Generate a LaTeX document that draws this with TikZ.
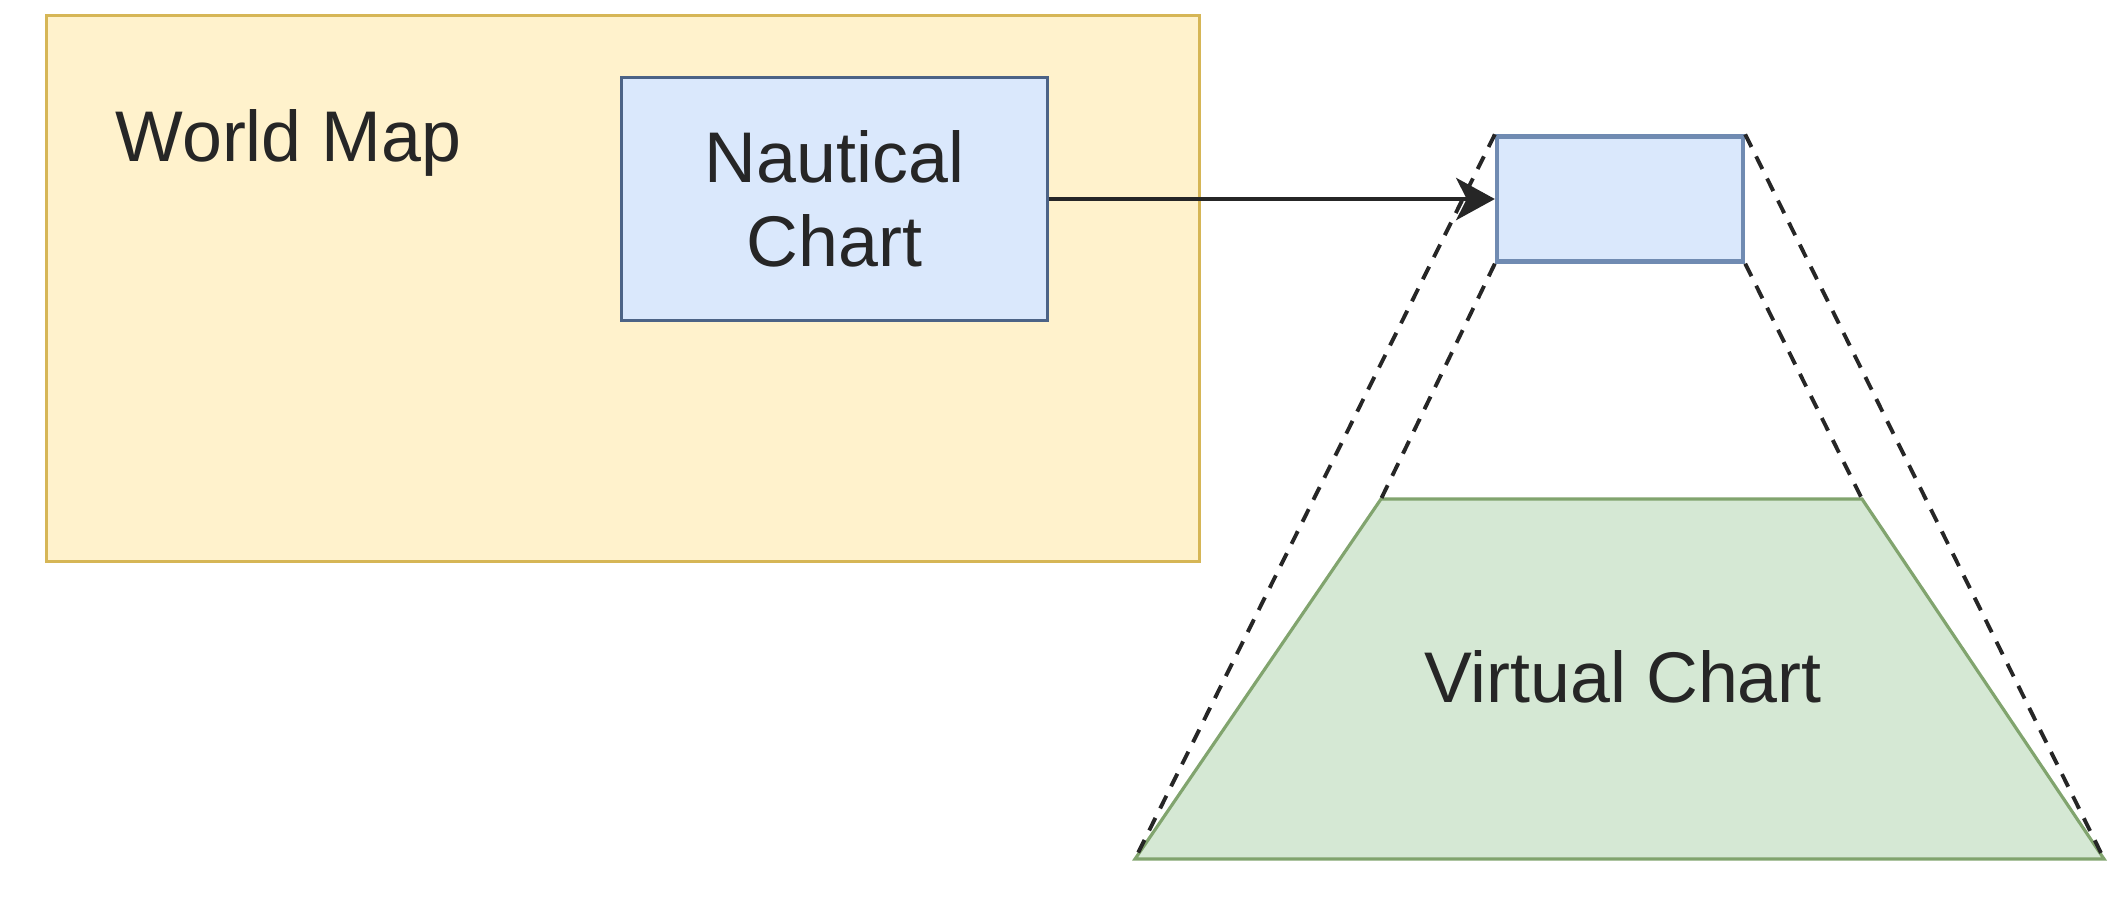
\documentclass[tikz,border=0pt]{standalone}
\usepackage{fontspec}
\setmainfont{Liberation Sans}
\usetikzlibrary{arrows.meta}

\definecolor{mapfill}{HTML}{FFF2CC}
\definecolor{mapline}{HTML}{D6B656}
\definecolor{chartfill}{HTML}{DAE8FC}
\definecolor{chartline}{HTML}{6C8EBF}
\definecolor{virtfill}{HTML}{D5E8D4}
\definecolor{virtline}{HTML}{82B366}

\begin{document}
\begin{tikzpicture}[x=0.01cm, y=-0.01cm,
  every node/.style={font=\fontsize{20.4}{23.8}\selectfont, text=black!85, inner sep=0pt},
  box/.style={draw, line width=0.9pt, align=center},
  guide/.style={dash pattern=on 4pt off 3pt, line width=1.1pt, black!85}]
\useasboundingbox (0,0) rectangle (2119,899);

% world map with the chart on it
\node[box, fill=mapfill, draw=mapline, minimum width=11.52cm, minimum height=5.45cm] (world) at (623,288.5) {};
\node[anchor=base west] (worldlabel) at (115,161) {World Map};
\node[box, fill=chartfill, draw=chartline!70!black, minimum width=4.25cm, minimum height=2.43cm] (nautical) at (834.5,199) {Nautical\\Chart};

% lens
\node[box, fill=chartfill, draw=chartline!80!gray, line width=1.2pt, minimum width=2.46cm, minimum height=1.25cm] (lens) at (1620,199) {};

\coordinate (TL) at (1381,499);
\coordinate (TR) at (1862,499);
\coordinate (BR) at (2104,859);
\coordinate (BL) at (1135,859);

\draw[fill=virtfill, draw=virtline!70!gray, line width=0.9pt] (TL) -- (TR) -- (BR) -- (BL) -- cycle;
\node (virtual) at (1623,677) {Virtual Chart};

\draw[guide] (lens.north west) -- (BL);
\draw[guide] (lens.south west) -- (TL);
\draw[guide] (lens.north east) -- (BR);
\draw[guide] (lens.south east) -- (TR);

\draw[line width=1.2pt, black!85, -{Stealth[length=11pt, width=12pt, inset=3pt]}] (nautical.east) -- (lens.west);
\end{tikzpicture}
\end{document}
